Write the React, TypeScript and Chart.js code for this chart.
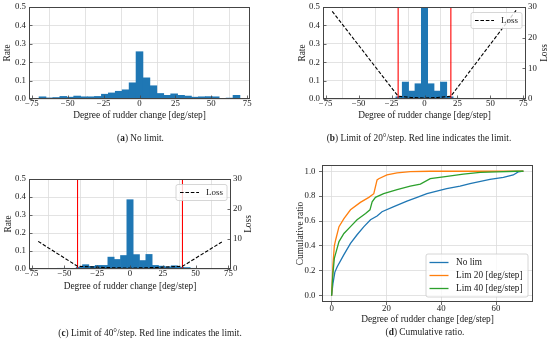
import React, { useEffect, useRef } from 'react';
import { Chart, registerables } from 'chart.js';

Chart.register(...registerables);

// ---------------- data ----------------
const binCenters = [-67.59, -62.76, -57.93, -53.1, -48.28, -43.45, -38.62, -33.79, -28.97, -24.14, -19.31, -14.48, -9.66, -4.83, 0, 4.83, 9.66, 14.48, 19.31, 24.14, 28.97, 33.79, 38.62, 43.45, 48.28, 53.1, 57.93, 62.76, 67.59];

const rateNoLimit = [0.012, 0.006, 0.008, 0.014, 0.010, 0.016, 0.012, 0.012, 0.014, 0.026, 0.033, 0.042, 0.050, 0.088, 0.257, 0.115, 0.072, 0.030, 0.020, 0.028, 0.020, 0.016, 0.010, 0.012, 0.013, 0.012, 0.002, 0.005, 0.020];
const rateLim20 = [0, 0, 0, 0, 0, 0, 0, 0, 0, 0.004, 0.012, 0.092, 0.043, 0.083, 0.53, 0.083, 0.043, 0.092, 0.012, 0.004, 0, 0, 0, 0, 0, 0, 0, 0, 0];
const rateLim40 = [0, 0, 0, 0.004, 0.004, 0.003, 0.010, 0.024, 0.015, 0.020, 0.020, 0.066, 0.053, 0.075, 0.385, 0.080, 0.047, 0.081, 0.020, 0.016, 0.012, 0.018, 0.010, 0.008, 0.004, 0, 0, 0, 0];

const lossLim20X = [-70, -20, -10, 0, 10, 20, 70];
const lossLim20Y = [28.6, 0.9, 0.5, 0.3, 0.5, 0.9, 29.2];
const lossLim40X = [-70, -40, -20, 0, 20, 40, 70];
const lossLim40Y = [9.2, 0.9, 0.5, 0.3, 0.5, 0.9, 9.0];

const limitLines20 = [-20, 20];
const limitLines40 = [-40, 40];

const histXTicks = [-75, -50, -25, 0, 25, 50, 75];
const rateTicks = [0, 0.1, 0.2, 0.3, 0.4, 0.5];
const lossTicks = [0, 10, 20, 30];
const cumXTicks = [0, 20, 40, 60];
const cumYTicks = [0, 0.2, 0.4, 0.6, 0.8, 1.0];

const noLimX = [0, 0.5, 1.2, 2.1, 4.5, 6.9, 9.3, 11.8, 14.2, 16.6, 18.4, 22.7, 27.5, 31.2, 34.8, 38.4, 42, 46.9, 50.5, 57.8, 62.7, 66.3, 68.1, 70];
const noLimY = [0, 0.1, 0.19, 0.235, 0.33, 0.42, 0.49, 0.555, 0.61, 0.64, 0.675, 0.715, 0.76, 0.79, 0.82, 0.84, 0.86, 0.88, 0.9, 0.935, 0.95, 0.97, 0.995, 1.0];
const lim20X = [0, 0.5, 1, 1.5, 2.7, 4.5, 6.9, 10.5, 13.6, 15.4, 16.6, 17.2, 20.2, 23.9, 28.7, 36, 50, 70];
const lim20Y = [0, 0.25, 0.4, 0.45, 0.555, 0.62, 0.69, 0.75, 0.79, 0.82, 0.93, 0.94, 0.97, 0.987, 0.997, 1.0, 1.0, 1.0];
const lim40X = [0, 0.5, 1, 1.5, 2.7, 4.5, 6.9, 9.3, 12.4, 14, 14.8, 16, 19, 23.9, 28.7, 32.4, 36, 40.8, 48.1, 54.2, 60.2, 67.5, 70];
const lim40Y = [0, 0.18, 0.3, 0.34, 0.435, 0.5, 0.555, 0.61, 0.66, 0.69, 0.755, 0.79, 0.82, 0.853, 0.88, 0.896, 0.94, 0.955, 0.976, 0.99, 0.995, 1.0, 1.0];

// ---------------- style ----------------
const FONT = "'Liberation Serif', 'Times New Roman', serif";
const TEXT = '#1a1a1a';
const GRID = '#dcdcdc';
const SPINE = '#444444';
const BAR = '#1f77b4';
const C_BLUE = '#1f77b4';
const C_ORANGE = '#ff7f0e';
const C_GREEN = '#2ca02c';
const tickFont = { family: FONT, size: 8.8, lineHeight: 1 };
const titleFont = { family: FONT, size: 9.4, lineHeight: 1.2 };

const signed = (v: number) => (v < 0 ? '\u2212' + Math.abs(v) : String(v));
const oneDec = (v: number) => Number(v).toFixed(1);
const zip = (xs: number[], ys: number[]) => xs.map((x, i) => ({ x, y: ys[i] }));

const fixTicks = (vals: number[]) => (s: any) => {
  s.ticks = vals.map((v) => ({ value: v }));
};
const fixW = (w: number) => (s: any) => {
  s.width = w;
  s.paddingTop = 0; s.paddingBottom = 0; s.paddingLeft = 0; s.paddingRight = 0;
};
const fixH = (h: number) => (s: any) => {
  s.height = h;
  s.paddingTop = 0; s.paddingBottom = 0; s.paddingLeft = 0; s.paddingRight = 0;
};

const decor = {
  id: 'decor',
  afterDatasetsDraw(chart: any, _args: any, o: any) {
    if (!o) return;
    const { ctx, chartArea: a } = chart;
    ctx.save();
    const L = Math.round(a.left) + 0.5;
    const R = Math.round(a.right) - 0.5;
    const T = Math.round(a.top) + 0.5;
    const B = Math.round(a.bottom) - 0.5;
    const seg = (x1: number, y1: number, x2: number, y2: number) => {
      ctx.beginPath(); ctx.moveTo(x1, y1); ctx.lineTo(x2, y2); ctx.stroke();
    };
    if (o.inTicks) {
      ctx.strokeStyle = SPINE; ctx.lineWidth = 0.8;
      const sx = chart.scales.x;
      sx.ticks.forEach((t: any) => { const p = Math.round(sx.getPixelForValue(t.value)) + 0.5; seg(p, B, p, B - 3); });
      const sy = chart.scales.y;
      sy.ticks.forEach((t: any) => { const p = Math.round(sy.getPixelForValue(t.value)) + 0.5; seg(L, p, L + 3, p); });
      const s2 = chart.scales.y2;
      if (s2) s2.ticks.forEach((t: any) => { const p = Math.round(s2.getPixelForValue(t.value)) + 0.5; seg(R, p, R - 3, p); });
    }
    ctx.strokeStyle = SPINE; ctx.lineWidth = 1;
    ctx.strokeRect(L, T, R - L, B - T);
    if (o.rightTitle) {
      ctx.save();
      ctx.translate(o.rightTitle.x, (a.top + a.bottom) / 2);
      ctx.rotate(-Math.PI / 2);
      ctx.fillStyle = TEXT; ctx.font = `${titleFont.size}px ${FONT}`;
      ctx.textAlign = 'center'; ctx.textBaseline = 'middle';
      ctx.fillText(o.rightTitle.text, 0, 0);
      ctx.restore();
    }
    if (o.legend) {
      const lg = o.legend;
      const bx = a.right - lg.right - lg.w;
      const by = lg.top != null ? a.top + lg.top : a.bottom - lg.bottom - lg.h;
      const r = 2;
      ctx.beginPath();
      ctx.moveTo(bx + r, by);
      ctx.lineTo(bx + lg.w - r, by); ctx.quadraticCurveTo(bx + lg.w, by, bx + lg.w, by + r);
      ctx.lineTo(bx + lg.w, by + lg.h - r); ctx.quadraticCurveTo(bx + lg.w, by + lg.h, bx + lg.w - r, by + lg.h);
      ctx.lineTo(bx + r, by + lg.h); ctx.quadraticCurveTo(bx, by + lg.h, bx, by + lg.h - r);
      ctx.lineTo(bx, by + r); ctx.quadraticCurveTo(bx, by, bx + r, by);
      ctx.closePath();
      ctx.fillStyle = 'rgba(255,255,255,0.8)'; ctx.fill();
      ctx.strokeStyle = '#cccccc'; ctx.lineWidth = 0.8; ctx.stroke();
      lg.items.forEach((it: any, i: number) => {
        const cy = by + lg.first + i * lg.gap;
        ctx.strokeStyle = it.color; ctx.lineWidth = it.width;
        ctx.setLineDash(it.dash || []);
        seg(bx + lg.lx0, cy, bx + lg.lx1, cy);
        ctx.setLineDash([]);
        ctx.fillStyle = TEXT; ctx.font = `${lg.fontSize}px ${FONT}`;
        ctx.textAlign = 'left'; ctx.textBaseline = 'middle';
        ctx.fillText(it.label, bx + lg.tx, cy + 0.5);
      });
    }
    ctx.restore();
  },
};

type HistParams = {
  rates: number[];
  limits?: number[];
  lossX?: number[];
  lossY?: number[];
  padTop: number; padRight: number;
  yW: number; y2W?: number; xH: number;
  rateTitlePad: number; xTitlePad: number;
  rightTitleX?: number;
};

function makeHist(canvas: HTMLCanvasElement, p: HistParams) {
  const datasets: any[] = [];
  if (p.lossX && p.lossY) {
    datasets.push({
      type: 'line', label: 'Loss', data: zip(p.lossX, p.lossY), yAxisID: 'y2',
      borderColor: '#000000', borderWidth: 1.1, borderDash: [3.6, 1.8], pointRadius: 0, tension: 0, order: 0,
    });
  }
  (p.limits || []).forEach((l) => {
    datasets.push({
      type: 'line', data: [{ x: l, y: 0 }, { x: l, y: 0.5 }], yAxisID: 'y',
      borderColor: '#ff0000', borderWidth: 1.1, pointRadius: 0, tension: 0, order: 1,
    });
  });
  datasets.push({
    type: 'bar', data: zip(binCenters, p.rates), yAxisID: 'y',
    backgroundColor: BAR, borderWidth: 0, barPercentage: 1, categoryPercentage: 1, order: 2,
  });
  const scales: any = {
    x: {
      type: 'linear', min: -77, max: 77, offset: false,
      afterBuildTicks: fixTicks(histXTicks), afterFit: fixH(p.xH),
      grid: { color: GRID, drawTicks: false, lineWidth: 0.8 }, border: { display: false },
      ticks: { font: tickFont, color: TEXT, padding: 0.5, autoSkip: false, maxRotation: 0, callback: (v: any) => signed(v) },
      title: { display: true, text: 'Degree of rudder change [deg/step]', font: titleFont, color: TEXT, padding: { top: 0, bottom: p.xTitlePad } },
    },
    y: {
      type: 'linear', position: 'left', min: 0, max: 0.5,
      afterBuildTicks: fixTicks(rateTicks), afterFit: fixW(p.yW),
      grid: { color: GRID, drawTicks: false, lineWidth: 0.8 }, border: { display: false },
      ticks: { font: tickFont, color: TEXT, padding: 3, callback: (v: any) => oneDec(v) },
      title: { display: true, text: 'Rate', font: titleFont, color: TEXT, padding: { top: p.rateTitlePad, bottom: 0 } },
    },
  };
  if (p.lossX) {
    scales.y2 = {
      type: 'linear', position: 'right', min: 0, max: 30,
      afterBuildTicks: fixTicks(lossTicks), afterFit: fixW(p.y2W || 24),
      grid: { drawOnChartArea: false, drawTicks: false }, border: { display: false },
      ticks: { font: tickFont, color: TEXT, padding: 2 },
    };
  }
  return new Chart(canvas, {
    type: 'bar',
    data: { datasets },
    options: {
      responsive: false, animation: false, events: [],
      layout: { padding: { left: 0, top: p.padTop, right: p.padRight, bottom: 0 } },
      plugins: {
        legend: { display: false }, tooltip: { enabled: false },
        decor: {
          inTicks: true,
          rightTitle: p.lossX ? { text: 'Loss', x: p.rightTitleX } : null,
          legend: p.lossX ? {
            right: 4, top: 5.5, w: 51, h: 16, first: 8, gap: 13, lx0: 4, lx1: 23, tx: 30, fontSize: 9,
            items: [{ label: 'Loss', color: '#000000', width: 1.1, dash: [3.6, 1.8] }],
          } : null,
        },
      } as any,
      scales,
    },
    plugins: [decor as any],
  } as any);
}

function makeCum(canvas: HTMLCanvasElement) {
  const line = (label: string, xs: number[], ys: number[], color: string, order: number) => ({
    label, data: zip(xs, ys), borderColor: color, backgroundColor: color,
    borderWidth: 1.3, pointRadius: 0, tension: 0, order,
  });
  return new Chart(canvas, {
    type: 'line',
    data: {
      datasets: [
        line('No lim', noLimX, noLimY, C_BLUE, 2),
        line('Lim 20 [deg/step]', lim20X, lim20Y, C_ORANGE, 1),
        line('Lim 40 [deg/step]', lim40X, lim40Y, C_GREEN, 0),
      ],
    },
    options: {
      responsive: false, animation: false, events: [],
      layout: { padding: { left: 0, top: 25, right: 17, bottom: 0 } },
      plugins: {
        legend: { display: false }, tooltip: { enabled: false },
        decor: {
          inTicks: false,
          legend: {
            right: 5, bottom: 5, w: 102, h: 43, first: 8.5, gap: 13, lx0: 3.5, lx1: 22.5, tx: 30, fontSize: 9.3,
            items: [
              { label: 'No lim', color: C_BLUE, width: 1.3 },
              { label: 'Lim 20 [deg/step]', color: C_ORANGE, width: 1.3 },
              { label: 'Lim 40 [deg/step]', color: C_GREEN, width: 1.3 },
            ],
          },
        },
      } as any,
      scales: {
        x: {
          type: 'linear', min: -3.5, max: 73.5,
          afterBuildTicks: fixTicks(cumXTicks), afterFit: fixH(28),
          grid: { color: GRID, lineWidth: 0.8, drawTicks: true, tickLength: 3, tickColor: SPINE, tickWidth: 0.8 }, border: { display: false },
          ticks: { font: tickFont, color: TEXT, padding: -0.5, autoSkip: false, maxRotation: 0 },
          title: { display: true, text: 'Degree of rudder change [deg/step]', font: titleFont, color: TEXT, padding: { top: 0, bottom: 4.9 } },
        },
        y: {
          type: 'linear', min: -0.05, max: 1.05,
          afterBuildTicks: fixTicks(cumYTicks), afterFit: fixW(47),
          grid: { color: GRID, lineWidth: 0.8, drawTicks: true, tickLength: 3, tickColor: SPINE, tickWidth: 0.8 }, border: { display: false },
          ticks: { font: tickFont, color: TEXT, padding: 3.5, callback: (v: any) => oneDec(v) },
          title: { display: true, text: 'Cumulative ratio', font: titleFont, color: TEXT, padding: { top: 19.4, bottom: 0 } },
        },
      } as any,
    },
    plugins: [decor as any],
  } as any);
}

const captionStyle = (cx: number, cy: number): React.CSSProperties => ({
  position: 'absolute', left: cx - 150, top: cy - 7, width: 300, height: 14, lineHeight: '14px',
  textAlign: 'center', fontFamily: FONT, fontSize: 9.3, color: TEXT, whiteSpace: 'nowrap',
});

export default function App() {
  const refA = useRef<HTMLCanvasElement>(null);
  const refB = useRef<HTMLCanvasElement>(null);
  const refC = useRef<HTMLCanvasElement>(null);
  const refD = useRef<HTMLCanvasElement>(null);

  useEffect(() => {
    const charts: Chart[] = [];
    if (refA.current) charts.push(makeHist(refA.current, {
      rates: rateNoLimit, padTop: 7, padRight: 25, yW: 29, xH: 31, rateTitlePad: 1.4, xTitlePad: 8.4,
    }));
    if (refB.current) charts.push(makeHist(refB.current, {
      rates: rateLim20, limits: limitLines20, lossX: lossLim20X, lossY: lossLim20Y,
      padTop: 7, padRight: 0, yW: 48, y2W: 24, xH: 31, rateTitlePad: 21.4, xTitlePad: 8.4, rightTitleX: 270,
    }));
    if (refC.current) charts.push(makeHist(refC.current, {
      rates: rateLim40, limits: limitLines40, lossX: lossLim40X, lossY: lossLim40Y,
      padTop: 39, padRight: 0, yW: 29, y2W: 25, xH: 31, rateTitlePad: 2.4, xTitlePad: 7.4, rightTitleX: 249,
    }));
    if (refD.current) charts.push(makeCum(refD.current));
    return () => charts.forEach((c) => c.destroy());
  }, []);

  return (
    <div style={{ position: 'fixed', left: 0, top: 0, width: 550, height: 341, background: '#ffffff', overflow: 'hidden' }}>
      <canvas ref={refA} width={275} height={130} style={{ position: 'absolute', left: 0, top: 0, width: 275, height: 130 }} />
      <canvas ref={refB} width={275} height={130} style={{ position: 'absolute', left: 275, top: 0, width: 275, height: 130 }} />
      <canvas ref={refC} width={256} height={160} style={{ position: 'absolute', left: 0, top: 140, width: 256, height: 160 }} />
      <canvas ref={refD} width={275} height={190} style={{ position: 'absolute', left: 275, top: 140, width: 275, height: 190 }} />
      <div style={captionStyle(140.5, 137.5)}>(<b>a</b>) No limit.</div>
      <div style={captionStyle(419, 137.5)}>(<b>b</b>) Limit of 20°/step. Red line indicates the limit.</div>
      <div style={captionStyle(150, 332.5)}>(<b>c</b>) Limit of 40°/step. Red line indicates the limit.</div>
      <div style={captionStyle(425, 331.5)}>(<b>d</b>) Cumulative ratio.</div>
    </div>
  );
}
